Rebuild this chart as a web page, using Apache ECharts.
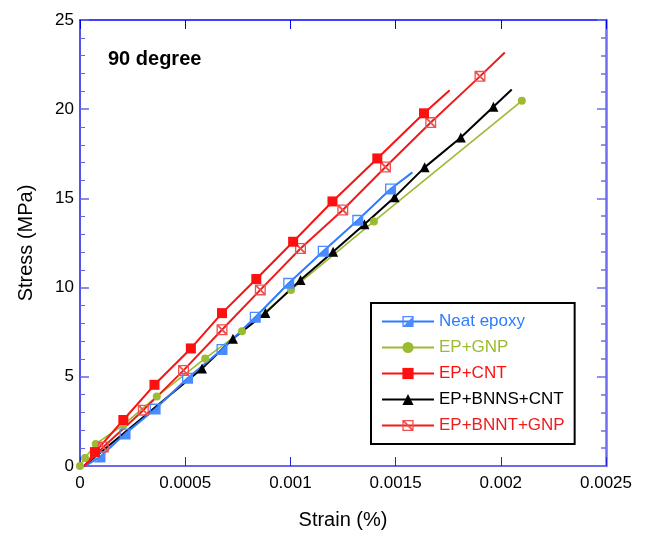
<!DOCTYPE html>
<html><head><meta charset="utf-8">
<script src="https://cdn.jsdelivr.net/npm/echarts@6/dist/echarts.min.js"></script>
<style>html,body{margin:0;padding:0;background:#fff}#c{width:646px;height:535px}</style>
</head><body><div id="c"></div>
<script>
// ---- data ----
const seriesNames = ['Neat epoxy', 'EP+GNP', 'EP+CNT', 'EP+BNNS+CNT', 'EP+BNNT+GNP'];
const xTickLabels = ['0', '0.0005', '0.001', '0.0015', '0.002', '0.0025'];
const yTickLabels = ['0', '5', '10', '15', '20', '25'];

const neatStrain = [0.000024, 0.000095, 0.000214, 0.000357, 0.000511, 0.000675, 0.000833, 0.000992, 0.001156, 0.00132, 0.001476, 0.00158];
const neatStress = [0, 0.50, 1.80, 3.19, 4.92, 6.53, 8.34, 10.24, 12.04, 13.77, 15.53, 16.46];
const neatPlain = [0, 11];

const gnpStrain = [0, 0.000024, 0.000075, 0.000206, 0.000365, 0.000595, 0.00077, 0.001003, 0.001397, 0.0021];
const gnpStress = [0, 0.45, 1.24, 2.30, 3.90, 6.03, 7.56, 9.87, 13.71, 20.47];
const gnpPlain = [];

const cntStrain = [0.00002, 0.0000714, 0.000206, 0.000354, 0.000527, 0.000675, 0.000838, 0.001013, 0.0012, 0.001413, 0.001635, 0.001757];
const cntStress = [0, 0.78, 2.58, 4.55, 6.59, 8.57, 10.48, 12.57, 14.83, 17.24, 19.77, 21.06];
const cntPlain = [0, 11];

const bnnsStrain = [0.00002, 0.00058, 0.000727, 0.000881, 0.001048, 0.001203, 0.001352, 0.001495, 0.001638, 0.00181, 0.001965, 0.002052];
const bnnsStress = [0, 5.47, 7.13, 8.57, 10.43, 12.01, 13.55, 15.07, 16.74, 18.41, 20.14, 21.10];
const bnnsPlain = [0, 11];

const bnntStrain = [0.00002, 0.000111, 0.000301, 0.000492, 0.000675, 0.000857, 0.001048, 0.001249, 0.001452, 0.001667, 0.001901, 0.002019];
const bnntStress = [0, 1.06, 3.13, 5.36, 7.64, 9.87, 12.19, 14.35, 16.76, 19.25, 21.84, 23.18];
const bnntPlain = [0, 11];

// ---- styling ----
const FONT = '"Liberation Sans", Arial, sans-serif';
const NEAT_SYM = 'path://M0,0L10,0L10,10L0,10Z M1.2,1.2L1.2,8.8L8.8,8.8L8.8,1.2Z M8.8,1.2L8.8,8.8L1.2,8.8Z';
const BNNT_SYM = 'path://M0,0L10,0L10,10L0,10Z M1.2,1.2L1.2,8.8L8.8,8.8L8.8,1.2Z M1.2,1.2L2.4,1.2L8.8,7.6L8.8,8.8L7.6,8.8L1.2,2.4Z';

function build(xs, ys, plain) {
  return xs.map((x, i) => plain.indexOf(i) >= 0 ? { value: [x, ys[i]], symbol: 'none' } : { value: [x, ys[i]] });
}
function mk(name, xs, ys, plain, lineColor, markColor, symbol, size, width) {
  return {
    type: 'line', name: name, data: build(xs, ys, plain),
    xAxisIndex: 0, yAxisIndex: 0,
    symbol: symbol, symbolSize: size, showAllSymbol: true, symbolKeepAspect: true,
    lineStyle: { color: lineColor, width: width },
    itemStyle: { color: markColor },
    clip: false, emphasis: { disabled: true }
  };
}

const colors = { neat: '#2d7cff', gnp: '#9bbb32', cnt: '#ff1010', bnns: '#000000', bnnt: '#ee1c1c' };

const chart = echarts.init(document.getElementById('c'), null, { renderer: 'canvas' });
chart.setOption({
  animation: false,
  backgroundColor: '#fff',
  textStyle: { fontFamily: FONT },
  title: { text: '90 degree', left: 108, top: 49, padding: 0,
    textStyle: { fontSize: 20, fontWeight: 'bold', color: '#000', fontFamily: FONT } },
  grid: { left: 80, right: 40, top: 20, bottom: 66, containLabel: false },
  legend: {
    orient: 'vertical', left: 371, top: 303,
    padding: [10, 10, 10, 10], itemGap: 9, itemWidth: 52, itemHeight: 14,
    backgroundColor: '#fff', borderColor: '#000', borderWidth: 2, borderRadius: 0,
    textStyle: { fontSize: 17, fontFamily: FONT },
    data: [
      { name: seriesNames[0], textStyle: { color: colors.neat } },
      { name: seriesNames[1], textStyle: { color: colors.gnp } },
      { name: seriesNames[2], textStyle: { color: colors.cnt } },
      { name: seriesNames[3], textStyle: { color: colors.bnns } },
      { name: seriesNames[4], textStyle: { color: colors.bnnt } }
    ]
  },
  xAxis: [{
    type: 'value', position: 'bottom', min: 0, max: 0.0025, interval: 0.0005,
    name: 'Strain (%)', nameLocation: 'middle', nameGap: 44,
    nameTextStyle: { fontSize: 20, color: '#000', fontFamily: FONT },
    axisLine: { show: true, onZero: false, lineStyle: { color: '#6b6bea', width: 2 } },
    axisTick: { show: true, inside: true, length: 9, lineStyle: { color: '#2424dd', width: 1 } },
    axisLabel: { fontSize: 17, color: '#000', margin: 9, formatter: (v, i) => xTickLabels[i] },
    splitLine: { show: false }
  }, {
    type: 'value', position: 'top', min: 0, max: 0.0025, interval: 0.0005,
    axisLine: { show: true, onZero: false, lineStyle: { color: '#0000ff', width: 1.5 } },
    axisTick: { show: true, inside: true, length: 9, lineStyle: { color: '#0000ff', width: 1 } },
    axisLabel: { show: false }, splitLine: { show: false }
  }],
  yAxis: [{
    type: 'value', position: 'left', min: 0, max: 25, interval: 5,
    name: 'Stress (MPa)', nameLocation: 'middle', nameGap: 44,
    nameTextStyle: { fontSize: 20, color: '#000', fontFamily: FONT },
    axisLine: { show: true, onZero: false, lineStyle: { color: '#1a1ae6', width: 1.5 } },
    axisTick: { show: true, inside: true, length: 9, lineStyle: { color: '#6464e8', width: 1.5 } },
    minorTick: { show: true, splitNumber: 5, length: 5, lineStyle: { color: '#6464e8', width: 1 } },
    axisLabel: { fontSize: 17, color: '#000', margin: 6, formatter: (v, i) => yTickLabels[i] },
    splitLine: { show: false }
  }, {
    type: 'value', position: 'right', min: 0, max: 25, interval: 5,
    axisLine: { show: true, onZero: false, lineStyle: { color: '#6f6fee', width: 2.5 } },
    axisTick: { show: true, inside: true, length: 9, lineStyle: { color: '#6f6fee', width: 1.5 } },
    minorTick: { show: true, splitNumber: 5, length: 5, lineStyle: { color: '#6f6fee', width: 1.5 } },
    axisLabel: { show: false }, splitLine: { show: false }
  }],
  series: [
    mk(seriesNames[1], gnpStrain, gnpStress, gnpPlain, colors.gnp, colors.gnp, 'circle', 8, 1.6),
    mk(seriesNames[3], bnnsStrain, bnnsStress, bnnsPlain, colors.bnns, colors.bnns, 'triangle', 10, 2),
    mk(seriesNames[0], neatStrain, neatStress, neatPlain, colors.neat, '#4a8cff', NEAT_SYM, 11, 2),
    mk(seriesNames[4], bnntStrain, bnntStress, bnntPlain, colors.bnnt, '#f05050', BNNT_SYM, 11, 2),
    mk(seriesNames[2], cntStrain, cntStress, cntPlain, colors.cnt, colors.cnt, 'rect', 10, 2)
  ]
});
</script></body></html>
